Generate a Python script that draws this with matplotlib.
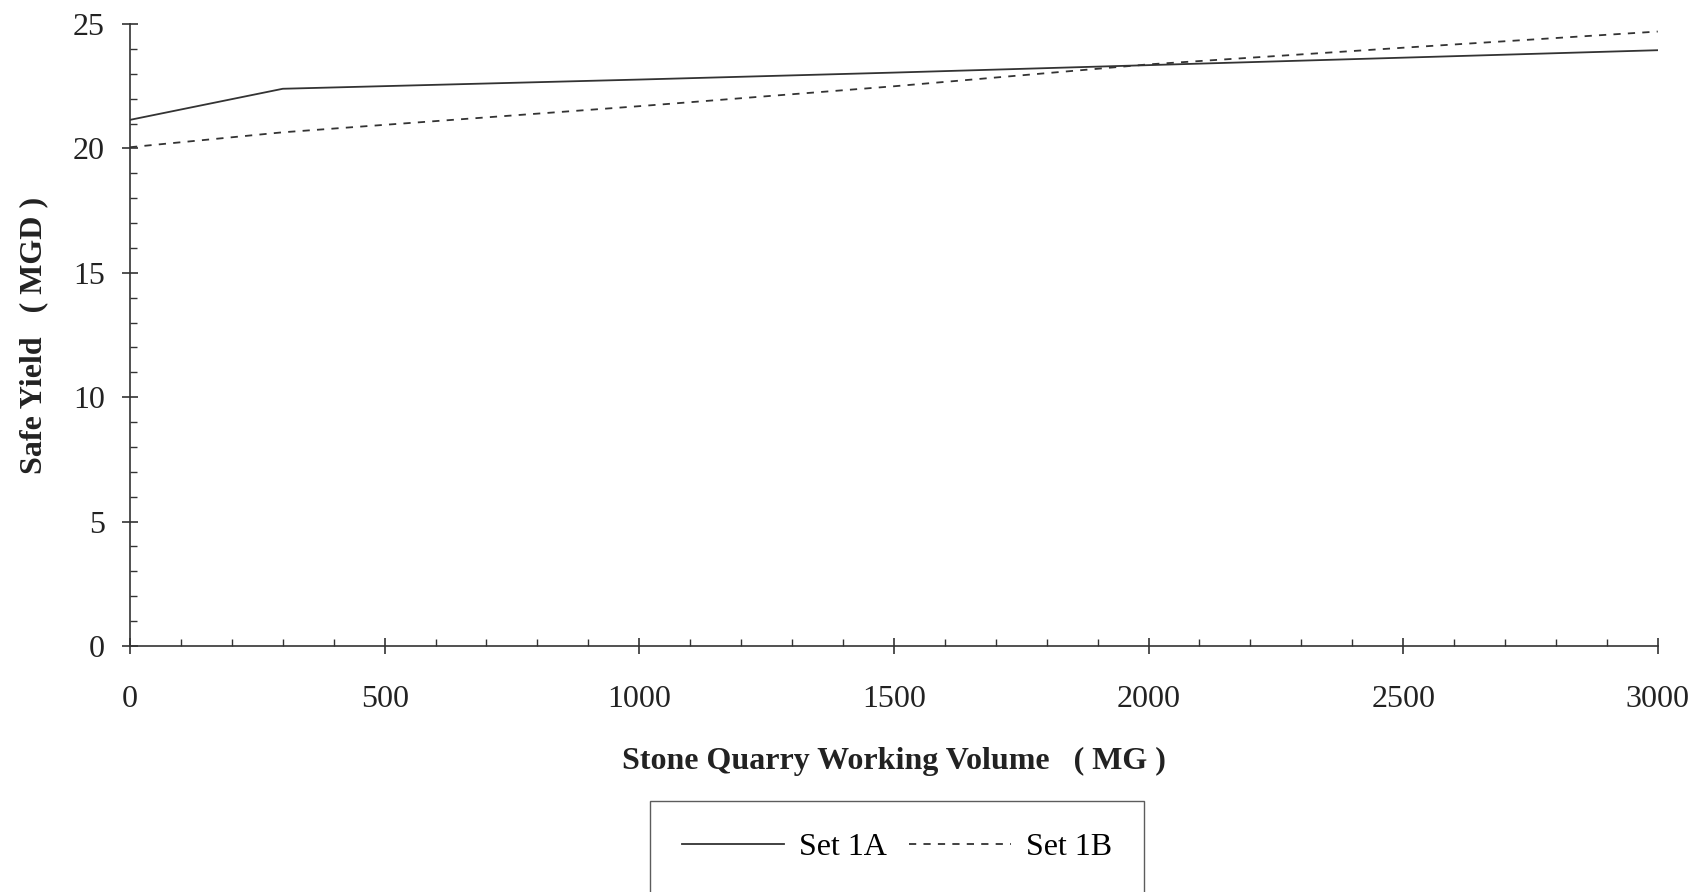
import matplotlib.pyplot as plt
from matplotlib.ticker import MultipleLocator

# values
volume = [0, 300, 1000, 1500, 2000, 2500, 3000]
set_1a = [21.15, 22.4, 22.77, 23.05, 23.35, 23.65, 23.95]
set_1b = [20.05, 20.65, 21.7, 22.5, 23.38, 24.05, 24.7]

plt.rcParams["font.family"] = ["Liberation Serif", "DejaVu Serif"]

fig = plt.figure(figsize=(17.02, 8.92), dpi=100)
ax = fig.add_axes([0.0764, 0.2758, 0.8976, 0.6972])

ink = "#333333"
ax.plot(volume, set_1a, color=ink, lw=1.3, label="Set 1A")
ax.plot(volume, set_1b, color=ink, lw=1.3, ls=(0, (4, 4)), label="Set 1B")

ax.set_xlim(0, 3000)
ax.set_ylim(0, 25)
ax.xaxis.set_major_locator(MultipleLocator(500))
ax.xaxis.set_minor_locator(MultipleLocator(100))
ax.yaxis.set_major_locator(MultipleLocator(5))
ax.yaxis.set_minor_locator(MultipleLocator(1))

for s in ["top", "right"]:
    ax.spines[s].set_visible(False)
for s in ["left", "bottom"]:
    ax.spines[s].set_color(ink)
    ax.spines[s].set_linewidth(1.2)

ax.tick_params(which="major", direction="inout", length=12, width=1.2, colors=ink,
               labelcolor="#222222", labelsize=23)
ax.tick_params(which="minor", direction="in", length=5, width=1, colors=ink)
ax.tick_params(axis="x", which="major", pad=22)
ax.tick_params(axis="y", which="major", pad=12)

ax.set_xlabel("Stone Quarry Working Volume   ( MG )", fontsize=23, fontweight="bold",
              labelpad=24, color="#222222")
ax.set_ylabel("Safe Yield   ( MGD )", fontsize=23, fontweight="bold",
              labelpad=18, color="#222222")

leg = fig.legend(loc="upper center", bbox_to_anchor=(0.527, 0.102), ncol=2,
                 fontsize=23, frameon=True, fancybox=False, edgecolor=ink,
                 handlelength=3.2, columnspacing=0.7, borderpad=1.0,
                 handletextpad=0.45, borderaxespad=0)
leg.get_frame().set_linewidth(1.0)

fig.savefig("out.png", dpi=100)
